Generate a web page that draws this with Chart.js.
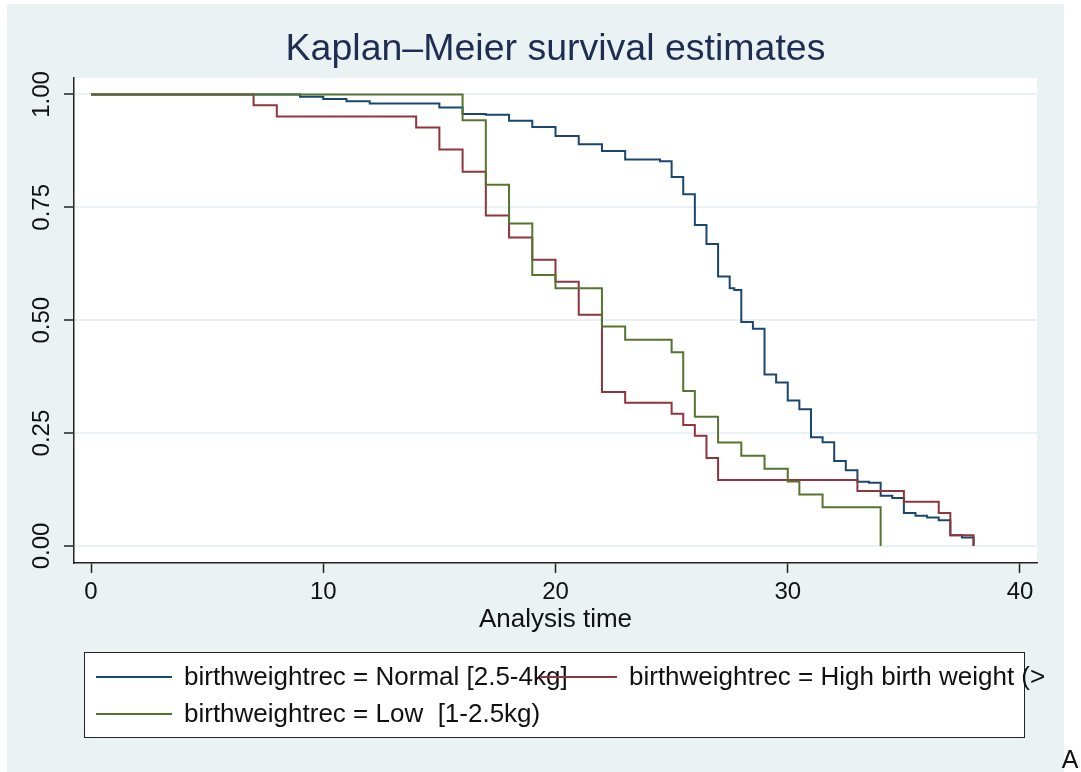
<!DOCTYPE html>
<html>
<head>
<meta charset="utf-8">
<title>Kaplan-Meier survival estimates</title>
<script src="https://cdn.jsdelivr.net/npm/chart.js@4.4.1/dist/chart.umd.min.js"></script>
<style>
  html, body { margin: 0; padding: 0; background: #ffffff; }
  #wrap { position: relative; width: 1081px; height: 772px; }
</style>
</head>
<body>
<div id="wrap"><canvas id="km" width="1081" height="772"></canvas></div>
<script>
// survival steps (time, survivor function after the drop)
const normalTime = [0, 9, 10, 11, 12, 15, 16, 17, 18, 19, 20, 21, 22, 23, 24.5, 25, 25.5, 26, 26.5, 27, 27.5, 27.7, 28, 28.5, 29, 29.5, 30, 30.5, 31, 31.5, 32, 32.5, 33, 33.5, 34, 34.5, 35, 35.5, 36, 36.5, 37, 37.5, 38];
const normalSurv = [1, 0.995, 0.990, 0.985, 0.980, 0.971, 0.957, 0.955, 0.942, 0.928, 0.908, 0.890, 0.875, 0.856, 0.852, 0.817, 0.779, 0.711, 0.669, 0.597, 0.571, 0.567, 0.496, 0.481, 0.380, 0.362, 0.322, 0.303, 0.241, 0.230, 0.188, 0.168, 0.142, 0.140, 0.111, 0.106, 0.073, 0.067, 0.063, 0.057, 0.024, 0.019, 0];

const highTime = [0, 7, 8, 14, 15, 16, 17, 18, 19, 20, 21, 22, 23, 25, 25.5, 26, 26.5, 27, 33, 35, 36.5, 37, 38];
const highSurv = [1, 0.976, 0.951, 0.927, 0.878, 0.829, 0.732, 0.683, 0.634, 0.585, 0.512, 0.341, 0.317, 0.293, 0.268, 0.244, 0.195, 0.146, 0.122, 0.098, 0.073, 0.024, 0];

const lowTime = [0, 16, 17, 18, 19, 20, 22, 23, 25, 25.5, 26, 27, 28, 29, 30, 30.5, 31.5, 34];
const lowSurv = [1, 0.943, 0.800, 0.714, 0.600, 0.571, 0.486, 0.457, 0.429, 0.343, 0.286, 0.229, 0.200, 0.171, 0.143, 0.114, 0.086, 0];

const groupLabels = [
  'birthweightrec = Normal [2.5-4kg]',
  'birthweightrec = High birth weight (>4kg)',
  'birthweightrec = Low  [1-2.5kg)'
];
const xTicks = [0, 10, 20, 30, 40];
const yTicks = [0, 0.25, 0.5, 0.75, 1];
const yTickLabels = ['0.00', '0.25', '0.50', '0.75', '1.00'];

const FONT = '"Liberation Sans", Arial, Helvetica, sans-serif';
const BG = 'rgb(234,242,243)';
const INK = '#111111';

function toPoints(t, s) {
  return t.map((v, i) => ({ x: v, y: s[i] }));
}

// background, title, rotated y labels, legend
const stataFrame = {
  id: 'stataFrame',
  beforeDraw(chart) {
    const ctx = chart.ctx;
    const a = chart.chartArea;
    ctx.save();
    ctx.fillStyle = '#ffffff';
    ctx.fillRect(0, 0, chart.width, chart.height);
    ctx.fillStyle = BG;
    ctx.fillRect(7, 4, chart.width - 24, chart.height - 4);
    ctx.fillStyle = '#ffffff';
    ctx.fillRect(a.left, a.top, a.right - a.left, a.bottom - a.top);
    ctx.restore();
  },
  afterDraw(chart) {
    const ctx = chart.ctx;
    const a = chart.chartArea;
    const ys = chart.scales.y;
    ctx.save();

    // title
    ctx.fillStyle = 'rgb(30,45,82)';
    ctx.font = '37.5px ' + FONT;
    ctx.textAlign = 'center';
    ctx.textBaseline = 'middle';
    ctx.fillText('Kaplan\u2013Meier survival estimates', (a.left + a.right) / 2, 50);

    // y tick labels, rotated like Stata
    ctx.fillStyle = INK;
    ctx.font = '24px ' + FONT;
    ys.ticks.forEach((tk, i) => {
      const py = ys.getPixelForValue(tk.value);
      ctx.save();
      ctx.translate(a.left - 32, py);
      ctx.rotate(-Math.PI / 2);
      ctx.textAlign = 'center';
      ctx.textBaseline = 'middle';
      ctx.fillText(yTickLabels[i], 0, 0);
      ctx.restore();
    });

    // legend box
    const lx = 84, ly = 652, lw = 940, lh = 85;
    ctx.fillStyle = '#ffffff';
    ctx.fillRect(lx, ly, lw, lh);
    ctx.strokeStyle = '#222222';
    ctx.lineWidth = 1;
    ctx.strokeRect(lx + 0.5, ly + 0.5, lw, lh);

    ctx.beginPath();
    ctx.rect(lx, ly, 1044 - lx, lh + 1);
    ctx.clip();
    const slots = [[12, 25], [457, 25], [12, 62]];
    ctx.font = '26px ' + FONT;
    ctx.textAlign = 'left';
    ctx.textBaseline = 'middle';
    chart.data.datasets.forEach((ds, i) => {
      const sx = lx + slots[i][0];
      const sy = ly + slots[i][1];
      ctx.strokeStyle = ds.borderColor;
      ctx.lineWidth = 2;
      ctx.beginPath();
      ctx.moveTo(sx, sy);
      ctx.lineTo(sx + 76, sy);
      ctx.stroke();
      ctx.fillStyle = INK;
      ctx.fillText(ds.label, sx + 88, sy + 1);
    });
    ctx.restore();

    // stray label at the bottom right edge
    ctx.save();
    ctx.fillStyle = INK;
    ctx.font = '25px ' + FONT;
    ctx.textAlign = 'center';
    ctx.textBaseline = 'middle';
    ctx.fillText('A', 1070, 761);
    ctx.restore();
  }
};

new Chart(document.getElementById('km').getContext('2d'), {
  type: 'line',
  data: {
    datasets: [
      {
        label: groupLabels[0],
        data: toPoints(normalTime, normalSurv),
        borderColor: 'rgb(26,71,111)',
        order: 3
      },
      {
        label: groupLabels[1],
        data: toPoints(highTime, highSurv),
        borderColor: 'rgb(144,53,59)',
        order: 2
      },
      {
        label: groupLabels[2],
        data: toPoints(lowTime, lowSurv),
        borderColor: 'rgb(85,117,47)',
        order: 1
      }
    ]
  },
  options: {
    responsive: false,
    animation: false,
    devicePixelRatio: 1,
    datasets: {
      line: {
        stepped: 'before',
        borderWidth: 2,
        pointRadius: 0,
        fill: false,
        tension: 0
      }
    },
    layout: {
      padding: { left: 0, top: 78, right: 44, bottom: 137 }
    },
    plugins: {
      legend: { display: false },
      title: { display: false },
      tooltip: { enabled: false }
    },
    scales: {
      x: {
        type: 'linear',
        min: -0.732,
        max: 40.732,
        afterBuildTicks: s => { s.ticks = xTicks.map(v => ({ value: v })); },
        afterFit: s => { s.height = 72; },
        ticks: {
          font: { family: FONT, size: 24 },
          color: INK,
          padding: 5,
          maxRotation: 0,
          autoSkip: false
        },
        grid: {
          drawOnChartArea: false,
          tickLength: 10,
          tickColor: '#222222',
          tickWidth: 1.5
        },
        border: { color: '#222222', width: 1.5 },
        title: {
          display: true,
          text: 'Analysis time',
          font: { family: FONT, size: 26 },
          color: INK,
          padding: { top: 0, bottom: 0 }
        }
      },
      y: {
        type: 'linear',
        min: -0.0377,
        max: 1.0365,
        afterBuildTicks: s => { s.ticks = yTicks.map(v => ({ value: v })); },
        afterFit: s => { s.width = 74; },
        ticks: { display: false },
        grid: {
          color: 'rgb(234,241,244)',
          lineWidth: 2,
          tickLength: 10,
          tickColor: '#222222',
          tickWidth: 1.5
        },
        border: { color: '#222222', width: 1.5 }
      }
    }
  },
  plugins: [stataFrame]
});
</script>
</body>
</html>
